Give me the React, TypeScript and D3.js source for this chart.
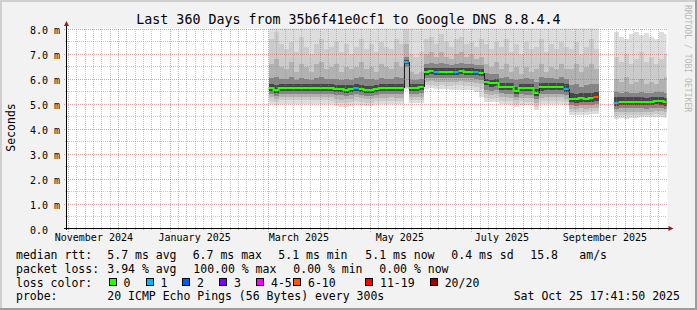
import React from "react";
import * as d3 from "d3";

// ---------- time frame ----------
const END_TIME = "2025-10-25T17:41:50Z";
const SPAN_DAYS = 360;
const SAMPLE_START = "2025-03-01T00:00:00Z";
const SAMPLE_STEP_DAYS = 3;

// ---------- series (ms), one value per 3-day sample ----------
// segments: A 0-26 | spike 27 | B 28-30 | C 31-42 | D 43-45 | E 46-59 | F 60-65 | gap 66-68 | G 69-79
const median: (number | null)[] = [
  5.64, 5.55, 5.65, 5.66, 5.65, 5.65, 5.66, 5.65, 5.65, 5.66, 5.65, 5.66, 5.64, 5.59, 5.59, 5.58, 5.59, 5.64, 5.6, 5.56, 5.56, 5.62, 5.63, 5.63, 5.64, 5.63, 5.63,
  6.69,
  5.66, 5.66, 5.67,
  6.3, 6.31, 6.29, 6.3, 6.29, 6.29, 6.3, 6.31, 6.3, 6.29, 6.28, 6.25,
  5.89, 5.83, 5.84,
  5.7, 5.69, 5.68, 5.52, 5.66, 5.64, 5.64, 5.45, 5.67, 5.68, 5.68, 5.68, 5.68, 5.6,
  5.22, 5.2, 5.23, 5.22, 5.24, 5.27,
  null, null, null,
  5.06, 5.1, 5.09, 5.1, 5.09, 5.09, 5.08, 5.09, 5.12, 5.11, 5.07,
];
const lostPings: number[] = [
  0, 0, 0, 0, 0, 0, 0, 0, 0, 0, 0, 0, 0, 0, 0, 0, 0, 1, 0, 0, 0, 0, 0, 0, 0, 0, 0,
  1,
  0, 0, 0,
  0, 0, 1, 0, 0, 0, 1, 0, 0, 0, 1, 0,
  0, 0, 0,
  0, 0, 0, 0, 0, 0, 0, 0, 0, 0, 0, 0, 0, 1,
  0, 0, 0, 0, 0, 7,
  0, 0, 0,
  1, 0, 0, 0, 0, 0, 0, 0, 0, 0, 0,
];
// smoke: upper edges (outer -> inner)
const hi1: (number | null)[] = [
  8.5, 8.5, 8.5, 8.5, 8.5, 8.5, 8.5, 8.5, 8.5, 8.5, 8.5, 8.5, 8.5, 8.5, 8.5, 8.5, 8.5, 8.5, 8.5, 8.5, 8.5, 8.5, 8.5, 8.5, 8.5, 8.5, 8.5,
  8.5,
  8.5, 8.5, 8.5,
  8.5, 8.5, 8.5, 8.5, 8.5, 8.5, 8.5, 8.5, 8.5, 8.5, 8.5, 8.5,
  8.5, 8.5, 8.5,
  8.5, 8.5, 8.5, 8.5, 8.5, 8.5, 8.5, 8.5, 8.5, 8.5, 8.5, 8.5, 8.5, 8.5,
  8.5, 8.5, 8.5, 8.5, 8.5, 8.5,
  null, null, null,
  7.9, 7.7, 7.6, 7.8, 7.9, 7.75, 7.85, 7.7, 7.6, 7.9, 7.8,
];
const hi2: (number | null)[] = [
  7.6, 7.9, 7.4, 7.2, 7.5, 7.1, 7.7, 7.3, 7.0, 7.4, 7.6, 7.2, 7.3, 7.5, 7.1, 7.4, 7.0, 7.3, 7.6, 7.2, 7.4, 7.1, 7.5, 7.3, 7.2, 7.6, 7.4,
  8.0,
  7.0, 6.9, 7.1,
  7.6, 7.7, 7.4, 7.8, 7.5, 7.3, 7.6, 7.7, 7.4, 7.5, 7.3, 7.6,
  7.4, 7.2, 7.5,
  7.3, 7.6, 7.1, 7.4, 7.0, 7.5, 7.2, 7.3, 7.6, 7.1, 7.4, 7.2, 7.5, 7.3,
  7.2, 7.5, 7.0, 7.3, 7.6, 7.2,
  null, null, null,
  6.9, 6.7, 7.0, 6.6, 6.8, 7.1, 6.7, 6.9, 6.6, 6.8, 7.0,
];
const hi3: (number | null)[] = [
  6.6, 6.8, 6.5, 6.4, 6.7, 6.3, 6.6, 6.5, 6.3, 6.6, 6.7, 6.4, 6.5, 6.6, 6.3, 6.5, 6.4, 6.5, 6.7, 6.4, 6.5, 6.3, 6.6, 6.5, 6.4, 6.7, 6.5,
  7.4,
  6.3, 6.2, 6.3,
  7.0, 7.1, 6.9, 7.1, 6.9, 6.8, 7.0, 7.1, 6.9, 7.0, 6.8, 6.9,
  6.6, 6.5, 6.7,
  6.4, 6.6, 6.3, 6.5, 6.2, 6.5, 6.3, 6.4, 6.6, 6.3, 6.5, 6.4, 6.6, 6.4,
  6.4, 6.6, 6.3, 6.5, 6.6, 6.4,
  null, null, null,
  6.0, 5.9, 6.1, 5.8, 5.9, 6.0, 5.8, 5.9, 5.8, 6.0, 6.1,
];
const hi4: (number | null)[] = [
  6.05, 6.1, 6.0, 6.0, 6.1, 5.95, 6.05, 6.0, 5.95, 6.05, 6.1, 6.0, 6.0, 6.0, 5.95, 6.0, 5.95, 6.05, 6.1, 6.0, 6.0, 5.95, 6.05, 6.0, 6.0, 6.1, 6.05,
  6.9,
  5.95, 5.95, 6.0,
  6.62, 6.65, 6.6, 6.65, 6.6, 6.58, 6.62, 6.65, 6.6, 6.6, 6.58, 6.55,
  6.25, 6.2, 6.22,
  6.05, 6.1, 6.0, 5.95, 6.0, 6.05, 6.0, 5.9, 6.1, 6.05, 6.05, 6.0, 6.1, 6.0,
  5.75, 5.8, 5.7, 5.75, 5.8, 5.8,
  null, null, null,
  5.5, 5.45, 5.5, 5.45, 5.45, 5.5, 5.45, 5.45, 5.5, 5.5, 5.45,
];
const hi5: (number | null)[] = [
  5.8, 5.75, 5.8, 5.82, 5.8, 5.8, 5.82, 5.8, 5.8, 5.82, 5.8, 5.82, 5.8, 5.76, 5.76, 5.75, 5.76, 5.8, 5.78, 5.74, 5.74, 5.78, 5.8, 5.8, 5.8, 5.8, 5.8,
  6.75,
  5.8, 5.8, 5.82,
  6.44, 6.45, 6.43, 6.44, 6.43, 6.43, 6.44, 6.45, 6.44, 6.43, 6.42, 6.4,
  6.02, 5.98, 6.0,
  5.85, 5.84, 5.83, 5.7, 5.82, 5.8, 5.8, 5.62, 5.83, 5.84, 5.84, 5.84, 5.84, 5.8,
  5.45, 5.42, 5.45, 5.44, 5.46, 5.48,
  null, null, null,
  5.27, 5.28, 5.27, 5.28, 5.27, 5.27, 5.26, 5.27, 5.3, 5.29, 5.25,
];
// smoke: lower edges (outer -> inner)
const lo1: (number | null)[] = [
  5.0, 4.96, 5.01, 5.02, 5.01, 5.01, 5.02, 5.01, 5.01, 5.02, 5.01, 5.02, 5.0, 4.92, 4.88, 4.9, 4.93, 5.0, 4.97, 4.94, 4.94, 4.99, 5.0, 5.0, 5.01, 5.0, 5.0,
  5.6,
  5.03, 5.03, 5.04,
  5.62, 5.63, 5.61, 5.62, 5.6, 5.58, 5.57, 5.56, 5.55, 5.55, 5.5, 5.3,
  5.1, 5.07, 5.08,
  5.0, 4.99, 4.98, 4.9, 4.98, 4.96, 4.96, 4.76, 4.99, 5.0, 5.0, 5.0, 5.0, 4.95,
  4.57, 4.55, 4.58, 4.57, 4.59, 4.6,
  null, null, null,
  4.4, 4.43, 4.42, 4.45, 4.46, 4.47, 4.47, 4.48, 4.5, 4.49, 4.46,
];
const lo2: (number | null)[] = [
  5.14, 5.08, 5.15, 5.16, 5.15, 5.15, 5.16, 5.15, 5.15, 5.16, 5.15, 5.16, 5.14, 5.06, 5.03, 5.05, 5.07, 5.14, 5.1, 5.06, 5.06, 5.12, 5.13, 5.13, 5.14, 5.13, 5.13,
  5.63,
  5.16, 5.16, 5.17,
  5.75, 5.76, 5.74, 5.75, 5.74, 5.74, 5.75, 5.76, 5.74, 5.72, 5.68, 5.6,
  5.26, 5.22, 5.24,
  5.14, 5.13, 5.12, 5.02, 5.11, 5.09, 5.09, 4.9, 5.12, 5.13, 5.13, 5.13, 5.13, 5.08,
  4.69, 4.67, 4.7, 4.69, 4.71, 4.73,
  null, null, null,
  4.54, 4.57, 4.56, 4.57, 4.56, 4.56, 4.55, 4.56, 4.59, 4.58, 4.54,
];
const lo3: (number | null)[] = [
  5.27, 5.2, 5.28, 5.29, 5.28, 5.28, 5.29, 5.28, 5.28, 5.29, 5.28, 5.29, 5.27, 5.2, 5.18, 5.2, 5.21, 5.27, 5.23, 5.19, 5.19, 5.25, 5.26, 5.26, 5.27, 5.26, 5.26,
  5.7,
  5.29, 5.29, 5.3,
  5.9, 5.91, 5.89, 5.9, 5.89, 5.89, 5.9, 5.91, 5.9, 5.88, 5.85, 5.8,
  5.42, 5.38, 5.4,
  5.28, 5.27, 5.26, 5.15, 5.25, 5.23, 5.23, 5.05, 5.26, 5.27, 5.27, 5.27, 5.27, 5.22,
  4.82, 4.8, 4.83, 4.82, 4.84, 4.86,
  null, null, null,
  4.67, 4.7, 4.69, 4.7, 4.69, 4.69, 4.68, 4.69, 4.72, 4.71, 4.67,
];
const lo4: (number | null)[] = [
  5.4, 5.33, 5.41, 5.42, 5.41, 5.41, 5.42, 5.41, 5.41, 5.42, 5.41, 5.42, 5.4, 5.35, 5.35, 5.34, 5.35, 5.4, 5.36, 5.32, 5.32, 5.38, 5.39, 5.39, 5.4, 5.39, 5.39,
  6.5,
  5.42, 5.42, 5.43,
  6.05, 6.06, 6.04, 6.05, 6.04, 6.04, 6.05, 6.06, 6.05, 6.04, 6.02, 5.98,
  5.58, 5.54, 5.55,
  5.43, 5.42, 5.41, 5.28, 5.4, 5.38, 5.38, 5.2, 5.41, 5.42, 5.42, 5.42, 5.42, 5.38,
  4.95, 4.93, 4.96, 4.95, 4.97, 4.99,
  null, null, null,
  4.81, 4.84, 4.83, 4.84, 4.83, 4.83, 4.82, 4.83, 4.86, 4.85, 4.81,
];
const lo5: (number | null)[] = [
  5.52, 5.45, 5.53, 5.54, 5.53, 5.53, 5.54, 5.53, 5.53, 5.54, 5.53, 5.54, 5.52, 5.47, 5.47, 5.46, 5.47, 5.52, 5.48, 5.44, 5.44, 5.5, 5.51, 5.51, 5.52, 5.51, 5.51,
  6.62,
  5.54, 5.54, 5.55,
  6.18, 6.19, 6.17, 6.18, 6.17, 6.17, 6.18, 6.19, 6.18, 6.17, 6.16, 6.12,
  5.75, 5.7, 5.71,
  5.57, 5.56, 5.55, 5.4, 5.53, 5.51, 5.51, 5.32, 5.54, 5.55, 5.55, 5.55, 5.55, 5.5,
  5.08, 5.06, 5.09, 5.08, 5.1, 5.12,
  null, null, null,
  4.94, 4.97, 4.96, 4.97, 4.96, 4.96, 4.95, 4.96, 4.99, 4.98, 4.94,
];

// ---------- axis / text content ----------
const titleText = "Last 360 Days from 35b6f41e0cf1 to Google DNS 8.8.4.4";
const yAxisTitle = "Seconds";
const watermark = "RRDTOOL / TOBI OETIKER";
const yTickValues = [0, 1, 2, 3, 4, 5, 6, 7, 8];
const yTickLabels = ["0.0", "1.0 m", "2.0 m", "3.0 m", "4.0 m", "5.0 m", "6.0 m", "7.0 m", "8.0 m"];
const monthLabels = ["November 2024", "January 2025", "March 2025", "May 2025", "July 2025", "September 2025"];
const monthLabelTimes = [
  "2024-11-16T04:00:00Z", "2025-01-15T15:00:00Z", "2025-03-19T05:00:00Z",
  "2025-05-18T18:00:00Z", "2025-07-19T00:00:00Z", "2025-09-18T20:00:00Z",
];

const rttLabel = "median rtt:";
const rttStats = ["5.7 ms avg", "6.7 ms max", "5.1 ms min", "5.1 ms now", "0.4 ms sd", "15.8", "am/s"];
const lossLabel = "packet loss:";
const lossStats = ["3.94 % avg", "100.00 % max", "0.00 % min", "0.00 % now"];
const lossColorLabel = "loss color:";
const lossBuckets = ["0", "1", "2", "3", "4-5", "6-10", "11-19", "20/20"];
const lossBucketMax = [0, 1, 2, 3, 5, 10, 19, 20];
const lossColors = ["#26ff00", "#00b8ff", "#0059ff", "#7e00ff", "#ff00ff", "#ff5500", "#ff0000", "#a10000"];
const probeLabel = "probe:";
const probeText = "20 ICMP Echo Pings (56 Bytes) every 300s";
const stampText = "Sat Oct 25 17:41:50 2025";

// ---------- layout / style ----------
const W = 697;
const H = 310;
const PLOT = { left: 66.5, right: 666.5, top: 29, bottom: 229 };
const FONT = "'DejaVu Sans Mono', monospace";
const SMOKE_SHADES = ["#dddddd", "#cbcbcb", "#b2b2b2", "#858585", "#474747"];
const LEG = {
  labelX: 16,
  rows: [259.3, 273, 286.7, 300.4],
  rttX: [107.3, 192.7, 278.3, 365.3, 451.3, 530.3, 579.3],
  lossX: [107.3, 193.3, 293.3, 379.3],
  boxX: [108.7, 145.7, 182.3, 219.3, 256.3, 293.3, 365.3, 430],
  probeX: 107.3,
  stampX: 513.7,
};

function lossColor(n: number) {
  const j = lossBucketMax.findIndex((m) => n <= m);
  return lossColors[j < 0 ? lossColors.length - 1 : j];
}

export default function App() {
  const end = new Date(END_TIME);
  const start = d3.utcDay.offset(end, -SPAN_DAYS);
  const x = d3.scaleUtc().domain([start, end]).range([PLOT.left, PLOT.right]);
  const y = d3.scaleLinear().domain([0, 8]).range([PLOT.bottom, PLOT.top]);
  const t0 = new Date(SAMPLE_START);
  const xEdge = (i: number) => x(d3.utcDay.offset(t0, i * SAMPLE_STEP_DAYS));

  const uppers = [hi1, hi2, hi3, hi4, hi5];
  const lowers = [lo1, lo2, lo3, lo4, lo5];

  // smoke rects
  const smoke: JSX.Element[] = [];
  for (let k = 0; k < 5; k++) {
    median.forEach((m, i) => {
      const hv = uppers[k][i];
      const lv = lowers[k][i];
      if (m == null || hv == null || lv == null) return;
      const x0 = xEdge(i);
      const x1 = xEdge(i + 1);
      const yt = y(hv);
      const yb = y(lv);
      smoke.push(
        <rect key={`s${k}-${i}`} x={x0} y={yt} width={x1 - x0} height={yb - yt}
          fill={SMOKE_SHADES[k]} shapeRendering="crispEdges" />
      );
    });
  }

  // median runs
  type Run = { color: string; pts: [number, number][]; lastY: number; endX: number };
  const runs: Run[] = [];
  const connectors: { x: number; y1: number; y2: number }[] = [];
  let run: Run | null = null;
  median.forEach((m, i) => {
    if (m == null) { run = null; return; }
    const c = lossColor(lostPings[i]);
    const yy = Math.round(y(m));
    const xi = xEdge(i);
    if (run && run.color === c && Math.abs(yy - run.lastY) < 6) {
      run.pts.push([xi, yy]);
    } else {
      if (run && Math.abs(yy - run.lastY) >= 6) connectors.push({ x: Math.round(xi) + 0.5, y1: run.lastY, y2: yy });
      run = { color: c, pts: [[xi, yy]], lastY: yy, endX: xi };
      runs.push(run);
    }
    run.lastY = yy;
    run.endX = xEdge(i + 1);
  });
  const lineGen = d3.line<[number, number]>().x((d) => d[0]).y((d) => d[1]).curve(d3.curveStepAfter);

  // grid
  const months = d3.utcMonth.range(d3.utcMonth.ceil(start), end);
  const minorX: number[] = [];
  d3.utcMonth.range(d3.utcMonth.floor(start), end).forEach((m) => {
    const next = d3.utcMonth.offset(m, 1);
    for (let k = 1; k <= 5; k++) {
      const d = d3.utcDay.offset(m, 5 * k);
      if (+next - +d < 3 * 86400000) continue;
      const xv = x(d);
      if (xv > PLOT.left + 2 && xv < PLOT.right) minorX.push(Math.floor(xv) + 0.5);
    }
  });
  const halfTicks = d3.range(0.5, 8, 1);
  const px = (v: number) => Math.floor(v) + 0.5;

  return (
    <svg width={W} height={H} style={{ position: "absolute", left: 0, top: 0 }}
      xmlns="http://www.w3.org/2000/svg" fontFamily={FONT}>
      <defs>
        <clipPath id="plotclip">
          <rect x={PLOT.left} y={PLOT.top - 0.5} width={PLOT.right - PLOT.left} height={PLOT.bottom - PLOT.top + 0.5} />
        </clipPath>
      </defs>
      {/* background + 3d frame */}
      <rect x={0} y={0} width={W} height={H} fill="#f2f2f2" />
      <rect x={0} y={0} width={W} height={2} fill="#cfcfcf" />
      <rect x={0} y={0} width={2} height={H} fill="#cfcfcf" />
      <rect x={W - 2} y={0} width={2} height={H} fill="#9c9c9c" />
      <rect x={0} y={H - 2} width={W} height={2} fill="#9c9c9c" />
      {/* canvas */}
      <rect x={PLOT.left} y={PLOT.top - 0.5} width={PLOT.right - PLOT.left + 1} height={PLOT.bottom - PLOT.top + 0.5} fill="#ffffff" />

      {/* smoke */}
      <g clipPath="url(#plotclip)">
        {smoke}
        {connectors.map((c, i) => (
          <line key={`c${i}`} x1={c.x} x2={c.x} y1={c.y1} y2={c.y2} stroke="#1e1e1e" strokeWidth={1} />
        ))}
        {runs.map((r, i) => (
          <path key={`r${i}`} d={lineGen([...r.pts, [r.endX, r.lastY]]) || ""} fill="none"
            stroke={r.color} strokeWidth={2} />
        ))}
      </g>

      {/* grid */}
      <g strokeDasharray="1,1" shapeRendering="crispEdges">
        {halfTicks.map((v) => (
          <line key={`hm${v}`} x1={PLOT.left - 2} x2={PLOT.right} y1={px(y(v))} y2={px(y(v))}
            stroke="#8f8f8f" strokeOpacity={0.5} />
        ))}
        {minorX.map((xv, i) => (
          <line key={`vm${i}`} x1={xv} x2={xv} y1={PLOT.top} y2={PLOT.bottom + 2}
            stroke="#8f8f8f" strokeOpacity={0.5} />
        ))}
        {yTickValues.filter((v) => v > 0).map((v) => (
          <line key={`hM${v}`} x1={PLOT.left - 3} x2={PLOT.right} y1={px(y(v))} y2={px(y(v))}
            stroke="#de5151" strokeOpacity={0.55} />
        ))}
        {months.map((m, i) => (
          <line key={`vM${i}`} x1={px(x(m))} x2={px(x(m))} y1={PLOT.top} y2={PLOT.bottom + 3}
            stroke="#de5151" strokeOpacity={0.55} />
        ))}
      </g>

      {/* axes */}
      <line x1={PLOT.left} x2={PLOT.left} y1={PLOT.bottom + 0.5} y2={PLOT.top - 4} stroke="#000" strokeWidth={1} shapeRendering="crispEdges" />
      <line x1={PLOT.left - 3} x2={PLOT.right + 3} y1={PLOT.bottom - 0.5} y2={PLOT.bottom - 0.5} stroke="#000" strokeWidth={1} shapeRendering="crispEdges" />
      <path d={`M${PLOT.left - 2.5},${PLOT.top - 3} L${PLOT.left + 2.5},${PLOT.top - 3} L${PLOT.left},${PLOT.top - 8} Z`} fill="#961e1e" />
      <path d={`M${PLOT.right + 2},${PLOT.bottom - 3} L${PLOT.right + 2},${PLOT.bottom + 2} L${PLOT.right + 7},${PLOT.bottom - 0.5} Z`} fill="#961e1e" />

      {/* y tick labels */}
      {yTickValues.map((v, i) => (
        <text key={`yl${v}`} x={30} y={y(v) + 5.3} fontSize={10} fill="#000">{yTickLabels[i]}</text>
      ))}
      {/* month labels */}
      {monthLabels.map((lab, i) => (
        <text key={`ml${i}`} x={x(new Date(monthLabelTimes[i]))} y={240.5} fontSize={10} textAnchor="middle" fill="#000">{lab}</text>
      ))}

      {/* title */}
      <text x={348.5} y={24} fontSize={13.3} textAnchor="middle" fill="#000">{titleText}</text>
      {/* y axis title */}
      <text transform={`translate(15,127.5) rotate(-90)`} fontSize={11.5} textAnchor="middle" fill="#000">{yAxisTitle}</text>
      {/* watermark */}
      <text transform={`translate(684.5,5) rotate(90)`} fontSize={8.1} fill="#b8b8b8">{watermark}</text>

      {/* legend */}
      <g fontSize={11.5} fill="#000">
        <text x={LEG.labelX} y={LEG.rows[0]}>{rttLabel}</text>
        {rttStats.map((s, i) => (
          <text key={`rt${i}`} x={LEG.rttX[i]} y={LEG.rows[0]}>{s}</text>
        ))}
        <text x={LEG.labelX} y={LEG.rows[1]}>{lossLabel}</text>
        {lossStats.map((s, i) => (
          <text key={`ls${i}`} x={LEG.lossX[i]} y={LEG.rows[1]}>{s}</text>
        ))}
        <text x={LEG.labelX} y={LEG.rows[2]}>{lossColorLabel}</text>
        {lossBuckets.map((b, i) => (
          <g key={`lb${i}`}>
            <rect x={Math.round(LEG.boxX[i]) + 0.5} y={278.5} width={7} height={7}
              fill={lossColors[i]} stroke="#000" strokeWidth={1} />
            <text x={LEG.boxX[i] + 14.7} y={LEG.rows[2]}>{b}</text>
          </g>
        ))}
        <text x={LEG.labelX} y={LEG.rows[3]}>{probeLabel}</text>
        <text x={LEG.probeX} y={LEG.rows[3]}>{probeText}</text>
        <text x={LEG.stampX} y={LEG.rows[3]}>{stampText}</text>
      </g>
    </svg>
  );
}
